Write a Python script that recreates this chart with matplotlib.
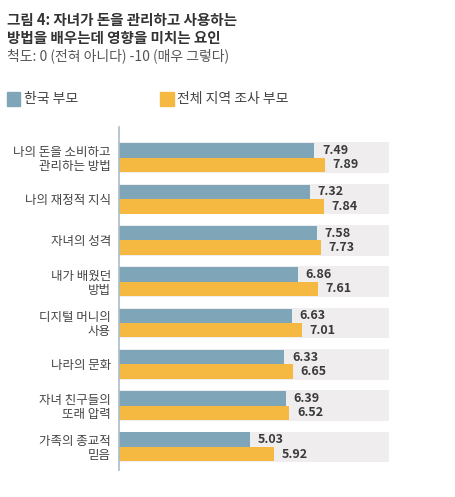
import matplotlib.pyplot as plt
from matplotlib.patches import Rectangle

plt.rcParams['font.family'] = ['Noto Sans CJK KR', 'DejaVu Sans']

categories = ['나의 돈을 소비하고\n관리하는 방법', '나의 재정적 지식', '자녀의 성격', '내가 배웠던\n방법',
              '디지털 머니의\n사용', '나라의 문화', '자녀 친구들의\n또래 압력', '가족의 종교적\n믿음']
korea = [7.49, 7.32, 7.58, 6.86, 6.63, 6.33, 6.39, 5.03]
overall = [7.89, 7.84, 7.73, 7.61, 7.01, 6.65, 6.52, 5.92]

blue = '#7fa5b9'
orange = '#f5b942'
bg = '#efeded'

fig = plt.figure(figsize=(4.55, 4.97), dpi=100)
ax = fig.add_axes([0.262, 0.055, 0.593, 0.69])

h = 0.35
for i, (k, o) in enumerate(zip(korea, overall)):
    ax.add_patch(Rectangle((0, i - h - 0.02), 10.35, 2 * h + 0.04, color=bg, lw=0, zorder=0))
    ax.barh(i - h / 2, k, height=h, color=blue, zorder=2)
    ax.barh(i + h / 2, o, height=h, color=orange, zorder=2)
    ax.text(k + 0.3, i - h / 2, f'{k:.2f}', va='center', ha='left', fontsize=9,
            fontweight='bold', color='#3a3a3a', zorder=3)
    ax.text(o + 0.3, i + h / 2, f'{o:.2f}', va='center', ha='left', fontsize=9,
            fontweight='bold', color='#3a3a3a', zorder=3)

ax.set_xlim(0, 10.35)
ax.set_ylim(len(categories) - 0.45, -0.75)
ax.set_yticks(range(len(categories)))
ax.set_yticklabels(categories, fontsize=9, color='#444444', linespacing=1.05)
ax.tick_params(axis='y', length=0, pad=6)
ax.set_xticks([])
for s in ['top', 'right', 'bottom']:
    ax.spines[s].set_visible(False)
ax.spines['left'].set_color('#a9bdc9')
ax.spines['left'].set_linewidth(1.2)

fig.text(0.015, 0.975, '그림 4: 자녀가 돈을 관리하고 사용하는\n방법을 배우는데 영향을 미치는 요인',
         fontsize=10.5, fontweight='bold', color='#333333', va='top', linespacing=1.15)
fig.text(0.015, 0.903, '척도: 0 (전혀 아니다) -10 (매우 그렇다)', fontsize=10, color='#555555', va='top')

fig.patches.append(Rectangle((0.015, 0.786), 0.03, 0.028, color=blue, transform=fig.transFigure))
fig.text(0.052, 0.80, '한국 부모', fontsize=10, color='#444444', va='center')
fig.patches.append(Rectangle((0.352, 0.786), 0.03, 0.028, color=orange, transform=fig.transFigure))
fig.text(0.39, 0.80, '전체 지역 조사 부모', fontsize=10, color='#444444', va='center')

fig.savefig('out.png', dpi=100)
